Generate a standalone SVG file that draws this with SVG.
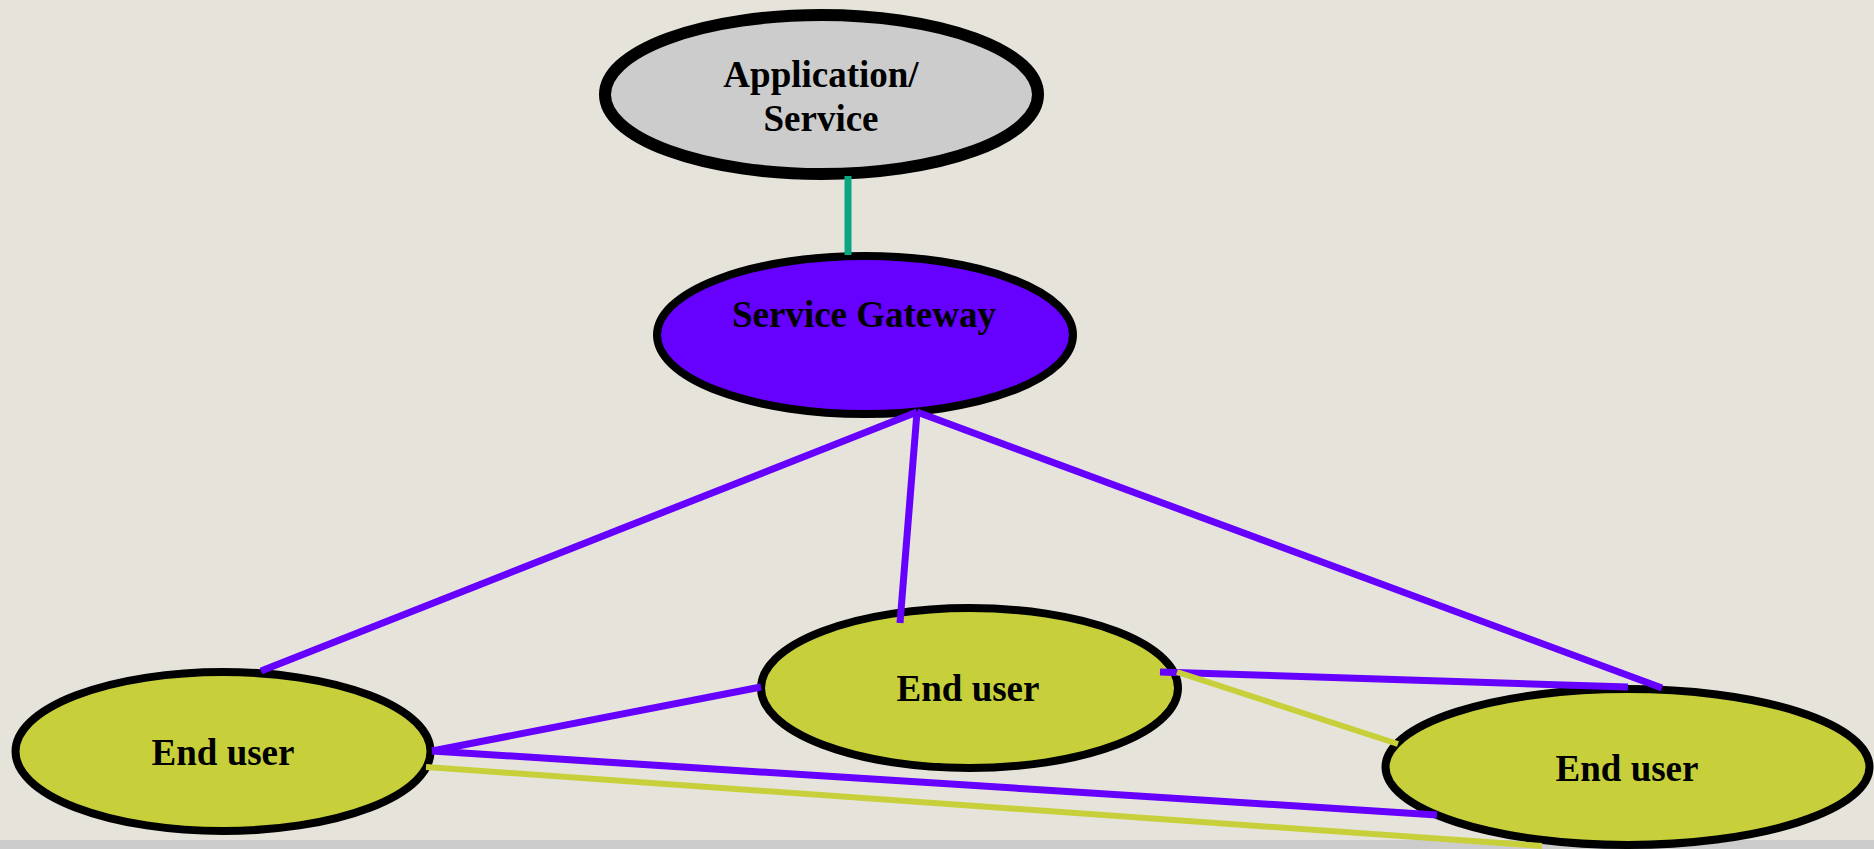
<svg xmlns="http://www.w3.org/2000/svg" width="1874" height="849" viewBox="0 0 1874 849">
  <style>
    .label { font-family: "Liberation Serif", "Times New Roman", serif; font-weight: bold; font-size: 37px; fill: #000000; text-anchor: middle; }
    .node { stroke: #000000; stroke-width: 8; }
    .user { fill: #c7d03a; }
    .link { fill: none; stroke-linecap: butt; }
    .purple { stroke: #6600ff; stroke-width: 7; }
    .olive { stroke: #c7d03a; stroke-width: 6; }
    .teal { stroke: #0aa682; stroke-width: 7; }
  </style>

  <!-- canvas -->
  <rect x="0" y="0" width="1874" height="849" fill="#e6e4da"/>
  <rect x="0" y="840" width="1874" height="9" fill="#cccccc"/>

  <g id="app-service">
    <ellipse cx="821.5" cy="94.5" rx="216.5" ry="79.5" fill="#cccccc" stroke="#000000" stroke-width="12"/>
    <text class="label" x="821" y="87">Application/</text>
    <text class="label" x="821" y="131">Service</text>
  </g>

  <g id="service-gateway">
    <ellipse class="node" cx="865" cy="335" rx="208" ry="79" fill="#6600ff"/>
    <text class="label" x="864" y="327">Service Gateway</text>
  </g>

  <g id="end-user-left">
    <ellipse class="node user" cx="223" cy="751.5" rx="207.5" ry="79.5"/>
    <text class="label" x="223" y="765">End user</text>
  </g>

  <g id="end-user-middle">
    <ellipse class="node user" cx="969.5" cy="688" rx="208.5" ry="80"/>
    <text class="label" x="968" y="701">End user</text>
  </g>

  <g id="end-user-right">
    <ellipse class="node user" cx="1627.5" cy="767" rx="242" ry="78"/>
    <text class="label" x="1627" y="781">End user</text>
  </g>

  <g id="connectors">
    <line class="link teal" x1="848" y1="176" x2="848" y2="255"/>

    <line class="link purple" x1="917" y1="412" x2="261" y2="671"/>
    <line class="link purple" x1="917" y1="412" x2="900" y2="623"/>
    <line class="link purple" x1="917" y1="412" x2="1662" y2="688"/>
    <line class="link purple" x1="432" y1="751" x2="761" y2="687"/>
    <line class="link purple" x1="432" y1="751" x2="1437" y2="815"/>
    <line class="link purple" x1="1160" y1="672" x2="1628" y2="687"/>

    <line class="link olive" x1="1177" y1="672" x2="1398" y2="744"/>
    <line class="link olive" x1="426" y1="767" x2="1542" y2="846"/>
  </g>
</svg>
